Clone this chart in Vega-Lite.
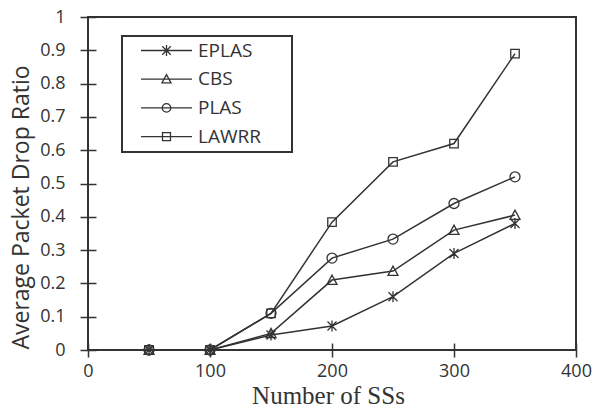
{
  "$schema": "https://vega.github.io/schema/vega-lite/v6.json",
  "width": 488,
  "height": 333,
  "autosize": {"type": "none"},
  "padding": {"left": 88, "top": 17, "right": 17, "bottom": 57},
  "background": "white",
  "config": {
    "view": {"stroke": "#333", "strokeWidth": 2},
    "font": "Open Sans",
    "legend": {"strokeWidth": 2}
  },
  "data": {
    "values": [
      {"n": 50, "v": 0, "s": "EPLAS"}, {"n": 100, "v": 0, "s": "EPLAS"}, {"n": 150, "v": 0.045, "s": "EPLAS"}, {"n": 200, "v": 0.072, "s": "EPLAS"}, {"n": 250, "v": 0.16, "s": "EPLAS"}, {"n": 300, "v": 0.29, "s": "EPLAS"}, {"n": 350, "v": 0.38, "s": "EPLAS"},
      {"n": 50, "v": 0, "s": "CBS"}, {"n": 100, "v": 0, "s": "CBS"}, {"n": 150, "v": 0.05, "s": "CBS"}, {"n": 200, "v": 0.21, "s": "CBS"}, {"n": 250, "v": 0.237, "s": "CBS"}, {"n": 300, "v": 0.36, "s": "CBS"}, {"n": 350, "v": 0.405, "s": "CBS"},
      {"n": 50, "v": 0, "s": "PLAS"}, {"n": 100, "v": 0, "s": "PLAS"}, {"n": 150, "v": 0.11, "s": "PLAS"}, {"n": 200, "v": 0.276, "s": "PLAS"}, {"n": 250, "v": 0.333, "s": "PLAS"}, {"n": 300, "v": 0.44, "s": "PLAS"}, {"n": 350, "v": 0.52, "s": "PLAS"},
      {"n": 50, "v": 0, "s": "LAWRR"}, {"n": 100, "v": 0, "s": "LAWRR"}, {"n": 150, "v": 0.11, "s": "LAWRR"}, {"n": 200, "v": 0.384, "s": "LAWRR"}, {"n": 250, "v": 0.565, "s": "LAWRR"}, {"n": 300, "v": 0.62, "s": "LAWRR"}, {"n": 350, "v": 0.89, "s": "LAWRR"}
    ]
  },
  "encoding": {
    "x": {
      "field": "n", "type": "quantitative",
      "scale": {"domain": [0, 400], "nice": false, "zero": true},
      "axis": {
        "values": [0, 100, 200, 300, 400],
        "title": "Number of SSs",
        "titleFont": "Liberation Serif", "titleFontSize": 25, "titleFontWeight": "normal", "titleColor": "#333",
        "titleX": 240, "titleY": 60, "titleBaseline": "alphabetic", "titleAlign": "center",
        "labelFontSize": 18, "labelColor": "#333", "labelPadding": 5, "labelFlush": false,
        "domain": false, "grid": false,
        "offset": -7, "tickSize": 14, "tickColor": "#333", "tickWidth": 1.5
      }
    },
    "y": {
      "field": "v", "type": "quantitative",
      "scale": {"domain": [0, 1], "nice": false},
      "axis": {
        "values": [0, 0.1, 0.2, 0.3, 0.4, 0.5, 0.6, 0.7, 0.8, 0.9, 1],
        "format": "~g",
        "title": "Average Packet Drop Ratio",
        "titleFontSize": 23, "titleFontWeight": "normal", "titleColor": "#333",
        "titleX": -68, "titleY": 190, "titleBaseline": "alphabetic", "titleAlign": "center", "titleAngle": -90,
        "labelFontSize": 18, "labelColor": "#333", "labelPadding": 15, "labelFlush": false,
        "domain": false, "grid": false,
        "offset": -8, "tickSize": 16, "tickColor": "#333", "tickWidth": 1.5
      }
    }
  },
  "layer": [
    {
      "mark": {"type": "line", "color": "#333", "strokeWidth": 1.5},
      "encoding": {"detail": {"field": "s"}}
    },
    {
      "mark": {"type": "point", "filled": false, "color": "#333", "size": 100, "strokeWidth": 1.3, "opacity": 1},
      "encoding": {
        "shape": {
          "field": "s", "type": "nominal",
          "scale": {
            "domain": ["EPLAS", "CBS", "PLAS", "LAWRR"],
            "range": [
              "M-0.9,-0.9L0.9,0.9M-0.9,0.9L0.9,-0.9M0,-1.1L0,1.1",
              "M-1,0.85L1,0.85L0,-1Z",
              "circle",
              "M-0.85,-0.85L0.85,-0.85L0.85,0.85L-0.85,0.85Z"
            ]
          },
          "legend": null
        }
      }
    },
    {
      "mark": {"type": "point", "filled": false, "color": "#333", "size": 100, "opacity": 0},
      "encoding": {
        "shape": {
          "field": "s", "type": "nominal",
          "scale": {
            "domain": ["EPLAS", "CBS", "PLAS", "LAWRR"],
            "range": [
              "M-5.1,0L5.1,0M-0.85,-0.85L0.85,0.85M-0.85,0.85L0.85,-0.85M0,-1.1L0,1.1M23.5,0",
              "M-5.1,0L5.1,0M-0.9,0.75L0.9,0.75L0,-0.9Z M23.5,0",
              "M-5.1,0L5.1,0M0.85,0A0.85,0.85,0,1,1,-0.85,0A0.85,0.85,0,1,1,0.85,0M23.5,0",
              "M-5.1,0L5.1,0M-0.8,-0.8L0.8,-0.8L0.8,0.8L-0.8,0.8Z M23.5,0"
            ]
          },
          "legend": {
            "title": null,
            "orient": "none",
            "legendX": 34,
            "legendY": 19,
            "symbolSize": 100,
            "symbolOpacity": 1,
            "symbolStrokeColor": "#333",
            "symbolFillColor": "transparent",
            "symbolStrokeWidth": 1.3,
            "labelFontSize": 19,
            "labelColor": "#333",
            "labelOffset": 22,
            "rowPadding": 8.7,
            "padding": 5,
            "symbolOffset": 30,
            "strokeColor": "#333",
            "fillColor": "white"
          }
        }
      }
    }
  ],
  "resolve": {"scale": {"shape": "independent"}}
}
